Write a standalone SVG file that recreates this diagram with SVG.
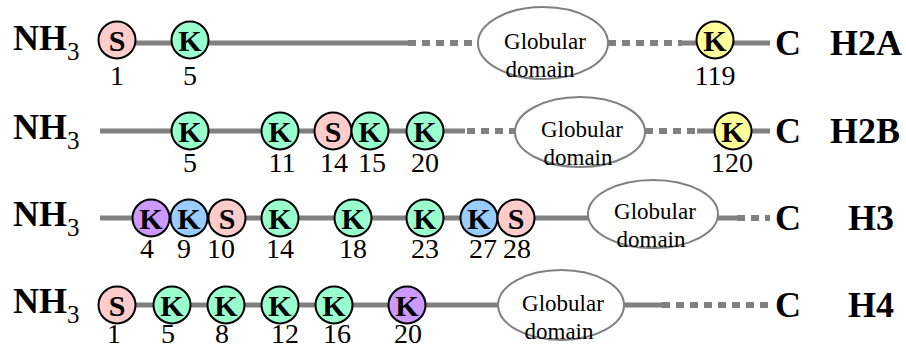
<svg xmlns="http://www.w3.org/2000/svg" width="906" height="349" viewBox="0 0 906 349">
<style>
.ln{stroke:#808080;stroke-width:5;fill:none}
.ds{stroke:#808080;stroke-width:6;fill:none;stroke-dasharray:8 6}
.c{stroke:#000;stroke-width:2}
.S{fill:#FFCCCC}.K{fill:#99FFCC}.Y{fill:#FFFF99}.P{fill:#CC99FF}.B{fill:#99CCFF}
text{font-family:'Liberation Serif','Tinos','DejaVu Serif','Noto Serif',serif}
.lt{font-size:30px;font-weight:bold;text-anchor:middle;fill:#000}
.num{font-size:28px;text-anchor:middle;fill:#000}
.big{font-size:36px;font-weight:bold;fill:#000}
.sub{font-size:25px;font-weight:normal}
.el{fill:#fff;stroke:#808080;stroke-width:2}
.gt{font-size:23px;text-anchor:middle;fill:#000}
</style>
<g id="connectors">
<line class="ln" x1="117" y1="43" x2="408" y2="43"/>
<line class="ds" x1="408" y1="43" x2="480" y2="43"/>
<line class="ds" x1="608" y1="43" x2="682" y2="43"/>
<line class="ln" x1="682" y1="43" x2="770" y2="43"/>
<line class="ln" x1="100" y1="131" x2="465" y2="131"/>
<line class="ds" x1="467" y1="131" x2="517" y2="131"/>
<line class="ds" x1="645" y1="131" x2="697" y2="131"/>
<line class="ln" x1="697" y1="131" x2="770" y2="131"/>
<line class="ln" x1="100" y1="218" x2="590" y2="218"/>
<line class="ln" x1="716" y1="218" x2="737" y2="218"/>
<line class="ds" x1="737" y1="218" x2="770" y2="218"/>
<line class="ln" x1="117" y1="305" x2="500" y2="305"/>
<line class="ln" x1="622" y1="305" x2="662" y2="305"/>
<line class="ds" x1="662" y1="305" x2="770" y2="305"/>
</g>
<g id="H2A">
<text class="big" x="13" y="50">NH<tspan class="sub" dy="10">3</tspan></text>
<g id="H2A-S1"><circle class="c S" cx="117" cy="40" r="18.5"/><text class="lt" x="117" y="50.5">S</text><text class="num" x="117" y="85">1</text></g>
<g id="H2A-K5"><circle class="c K" cx="190" cy="40" r="18.5"/><text class="lt" x="190" y="50.5">K</text><text class="num" x="190" y="85">5</text></g>
<g id="H2A-glob"><ellipse class="el" cx="543" cy="43" rx="65" ry="36"/><text class="gt" x="545" y="49">Globular</text><text class="gt" x="540" y="77">domain</text></g>
<g id="H2A-K119"><circle class="c Y" cx="715" cy="40" r="18.5"/><text class="lt" x="715" y="50.5">K</text><text class="num" x="715" y="85">119</text></g>
<text class="big" x="775" y="55">C</text>
<text class="big" x="830" y="55">H2A</text>
</g>
<g id="H2B">
<text class="big" x="13" y="139">NH<tspan class="sub" dy="10">3</tspan></text>
<g id="H2B-K5"><circle class="c K" cx="190" cy="131" r="18.5"/><text class="lt" x="190" y="141.5">K</text><text class="num" x="190" y="172">5</text></g>
<g id="H2B-K11"><circle class="c K" cx="280" cy="131" r="18.5"/><text class="lt" x="280" y="141.5">K</text><text class="num" x="282" y="172">11</text></g>
<g id="H2B-S14"><circle class="c S" cx="333" cy="131" r="18.5"/><text class="lt" x="333" y="141.5">S</text><text class="num" x="334" y="172">14</text></g>
<g id="H2B-K15"><circle class="c K" cx="370" cy="131" r="18.5"/><text class="lt" x="370" y="141.5">K</text><text class="num" x="372" y="172">15</text></g>
<g id="H2B-K20"><circle class="c K" cx="425" cy="131" r="18.5"/><text class="lt" x="425" y="141.5">K</text><text class="num" x="425" y="172">20</text></g>
<g id="H2B-glob"><ellipse class="el" cx="580" cy="132" rx="65" ry="35"/><text class="gt" x="582" y="137">Globular</text><text class="gt" x="578" y="165">domain</text></g>
<g id="H2B-K120"><circle class="c Y" cx="733" cy="131" r="18.5"/><text class="lt" x="733" y="141.5">K</text><text class="num" x="732" y="172">120</text></g>
<text class="big" x="775" y="143">C</text>
<text class="big" x="830" y="143">H2B</text>
</g>
<g id="H3">
<text class="big" x="13" y="226">NH<tspan class="sub" dy="10">3</tspan></text>
<g id="H3-K4"><circle class="c P" cx="151" cy="218" r="18.5"/><text class="lt" x="151" y="228.5" font-weight="normal">K</text><text class="num" x="147" y="258" fill="#444">4</text></g>
<g id="H3-K9"><circle class="c B" cx="189" cy="218" r="18.5"/><text class="lt" x="189" y="228.5">K</text><text class="num" x="184" y="258">9</text></g>
<g id="H3-S10"><circle class="c S" cx="227" cy="218" r="18.5"/><text class="lt" x="227" y="228.5">S</text><text class="num" x="221" y="258">10</text></g>
<g id="H3-K14"><circle class="c K" cx="280" cy="218" r="18.5"/><text class="lt" x="280" y="228.5">K</text><text class="num" x="280" y="258">14</text></g>
<g id="H3-K18"><circle class="c K" cx="353" cy="218" r="18.5"/><text class="lt" x="353" y="228.5">K</text><text class="num" x="353" y="258">18</text></g>
<g id="H3-K23"><circle class="c K" cx="425" cy="218" r="18.5"/><text class="lt" x="425" y="228.5">K</text><text class="num" x="425" y="258">23</text></g>
<g id="H3-K27"><circle class="c B" cx="479" cy="218" r="18.5"/><text class="lt" x="479" y="228.5">K</text><text class="num" x="483" y="258">27</text></g>
<g id="H3-S28"><circle class="c S" cx="516" cy="218" r="18.5"/><text class="lt" x="516" y="228.5">S</text><text class="num" x="517" y="258">28</text></g>
<g id="H3-glob"><ellipse class="el" cx="653" cy="214" rx="65" ry="34"/><text class="gt" x="655" y="219">Globular</text><text class="gt" x="651" y="247">domain</text></g>
<text class="big" x="775" y="230">C</text>
<text class="big" x="848" y="230">H3</text>
</g>
<g id="H4">
<text class="big" x="13" y="313">NH<tspan class="sub" dy="10">3</tspan></text>
<g id="H4-S1"><circle class="c S" cx="117" cy="305" r="18.5"/><text class="lt" x="117" y="315.5">S</text><text class="num" x="114" y="343">1</text></g>
<g id="H4-K5"><circle class="c K" cx="172" cy="305" r="18.5"/><text class="lt" x="172" y="315.5">K</text><text class="num" x="168" y="343">5</text></g>
<g id="H4-K8"><circle class="c K" cx="226" cy="305" r="18.5"/><text class="lt" x="226" y="315.5">K</text><text class="num" x="222" y="343">8</text></g>
<g id="H4-K12"><circle class="c K" cx="280" cy="305" r="18.5"/><text class="lt" x="280" y="315.5">K</text><text class="num" x="285" y="343">12</text></g>
<g id="H4-K16"><circle class="c K" cx="334" cy="305" r="18.5"/><text class="lt" x="334" y="315.5">K</text><text class="num" x="337" y="343">16</text></g>
<g id="H4-K20"><circle class="c P" cx="407" cy="305" r="18.5"/><text class="lt" x="407" y="315.5">K</text><text class="num" x="408" y="343">20</text></g>
<g id="H4-glob"><ellipse class="el" cx="561" cy="305" rx="63" ry="35"/><text class="gt" x="563" y="311">Globular</text><text class="gt" x="559" y="339">domain</text></g>
<text class="big" x="775" y="317">C</text>
<text class="big" x="848" y="317">H4</text>
</g>
</svg>
